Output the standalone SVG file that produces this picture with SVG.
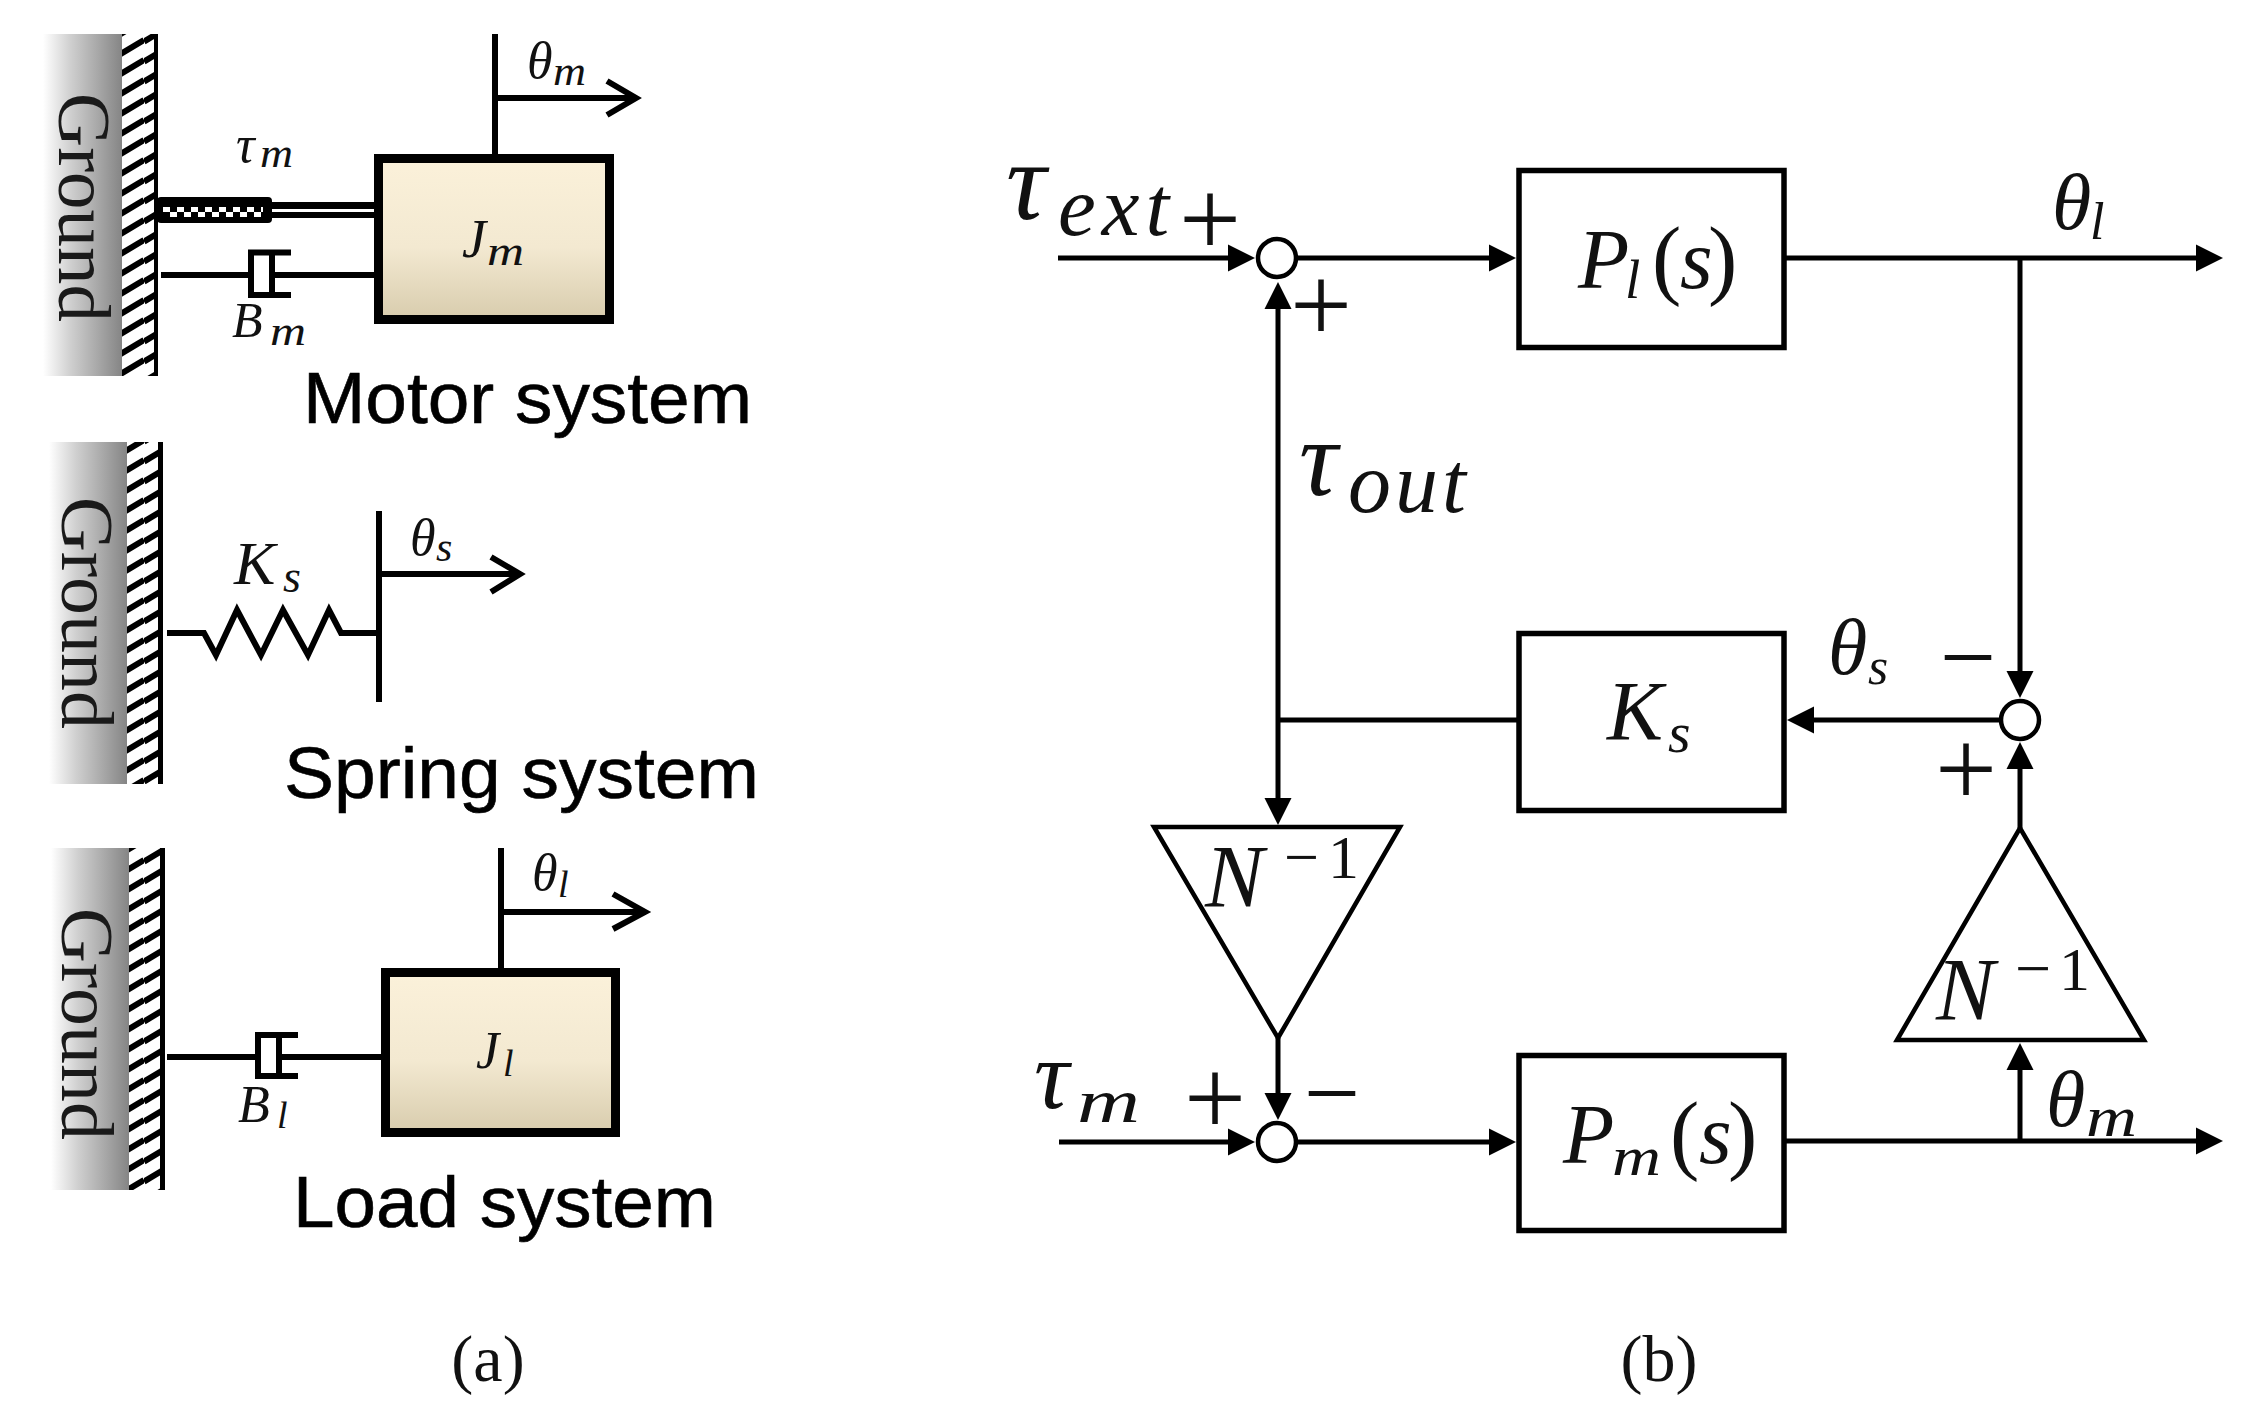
<svg xmlns="http://www.w3.org/2000/svg" width="2263" height="1419" viewBox="0 0 2263 1419">
<style>
.m{font-family:"Liberation Serif",serif;font-style:italic;fill:#111}
.u{font-style:normal}
.sys{font-family:"Liberation Sans",Arial,sans-serif;font-size:73px;fill:#000;stroke:#000;stroke-width:.6}
.gr{font-family:"Liberation Serif",serif;font-size:74px;fill:#1a1a1a}
.pm{font-family:"Liberation Serif",serif;font-size:110px;text-anchor:middle;fill:#111}
.mn{font-family:"Liberation Serif",serif;font-size:100px;text-anchor:middle;fill:#111}
.cap{font-family:"Liberation Serif",serif;font-size:66px;text-anchor:middle;fill:#111}
.wire{fill:none;stroke:#000;stroke-width:5}
.arr{marker-end:url(#tip)}
.block{fill:#fff;stroke:#000;stroke-width:5.5}
.sum{fill:#fff;stroke:#000;stroke-width:4.5}
.tri{fill:#fff;stroke:#000;stroke-width:4.5}
.bar{fill:none;stroke:#000;stroke-width:6}
.mass{fill:url(#massFill);stroke:#000;stroke-width:9}
</style>
<defs>
<marker id="tip" markerUnits="userSpaceOnUse" markerWidth="28" markerHeight="28" viewBox="0 0 28 28" refX="20" refY="14" orient="auto"><path d="M0 .5L27 14L0 27.5z" fill="#000"/></marker>
<linearGradient id="groundFill" x1="0" x2="1" y1="0" y2="0"><stop offset="0" stop-color="#fff"/><stop offset=".35" stop-color="#cfcfcf"/><stop offset="1" stop-color="#858585"/></linearGradient>
<linearGradient id="massFill" x1="0" x2="0" y1="0" y2="1"><stop offset="0" stop-color="#fbf1da"/><stop offset=".55" stop-color="#f3e9d1"/><stop offset="1" stop-color="#d8ccad"/></linearGradient>
<pattern id="hatch" patternUnits="userSpaceOnUse" width="36" height="20"><rect width="36" height="20" fill="#fff"/><path d="M0 21.600L36 0M0 1.600L36 -20M0 41.600L36 20" fill="none" stroke="#000" stroke-width="6"/></pattern>
<pattern id="check" patternUnits="userSpaceOnUse" width="14" height="10" x="163" y="207"><rect width="14" height="10" fill="#000"/><rect x="0" y="0" width="7" height="5" fill="#fff"/><rect x="7" y="5" width="7" height="5" fill="#fff"/></pattern>
</defs>
<rect width="2263" height="1419" fill="#fff"/>

<g id="motor-system">
<rect x="43" y="34" width="79" height="342" fill="url(#groundFill)"/>
<rect x="122" y="34" width="35" height="342" fill="url(#hatch)"/>
<rect x="154" y="34" width="4" height="342" fill="#000"/>
<text class="gr" transform="translate(59 93) rotate(90)" textLength="229" lengthAdjust="spacingAndGlyphs">Ground</text>
<rect x="157" y="197" width="115" height="26" rx="4" fill="#000"/>
<rect x="163" y="207" width="100" height="10" fill="url(#check)"/>
<rect x="272" y="202" width="103" height="16" fill="#000"/>
<rect x="272" y="209" width="103" height="3" fill="#fff"/>
<path class="bar" d="M161 275H251M272 275H375M291 252.500H251V295H291M272 252V295"/>
<rect class="mass" x="378.500" y="158.500" width="231" height="161"/>
<path class="bar" d="M495 34V154M495 98H636M607 81L636 98L607 115"/>
<text class="m" x="236" y="162" font-size="52">τ<tspan x="260" y="167" font-size="42" textLength="33" lengthAdjust="spacingAndGlyphs">m</tspan></text>
<text class="m" x="232" y="337" font-size="50">B<tspan x="270" y="345" font-size="42" textLength="36" lengthAdjust="spacingAndGlyphs">m</tspan></text>
<text class="m" x="462" y="257" font-size="54">J<tspan x="487" y="265" font-size="42" textLength="37" lengthAdjust="spacingAndGlyphs">m</tspan></text>
<text class="m" x="527" y="78" font-size="52">θ<tspan x="553" y="85" font-size="42" textLength="33" lengthAdjust="spacingAndGlyphs">m</tspan></text>
<text class="sys" x="303" y="423" textLength="449" lengthAdjust="spacingAndGlyphs">Motor system</text>
</g>

<g id="spring-system">
<rect x="49" y="442" width="78" height="342" fill="url(#groundFill)"/>
<rect x="127" y="442" width="35" height="342" fill="url(#hatch)"/>
<rect x="158" y="442" width="5" height="342" fill="#000"/>
<text class="gr" transform="translate(62 497) rotate(90)" textLength="232" lengthAdjust="spacingAndGlyphs">Ground</text>
<path class="bar" d="M167 633H204L216 655L237 610L261 655L283 610L308 655L329 610L341 633H379"/>
<path class="bar" d="M379 511V702M379 574H520M491 557L520 574L491 592"/>
<text class="m" x="234" y="584" font-size="62">K<tspan x="283" y="592" font-size="46">s</tspan></text>
<text class="m" x="410" y="555" font-size="52">θ<tspan x="436" y="561" font-size="42">s</tspan></text>
<text class="sys" x="284" y="798" textLength="475" lengthAdjust="spacingAndGlyphs">Spring system</text>
</g>

<g id="load-system">
<rect x="51" y="848" width="78" height="342" fill="url(#groundFill)"/>
<rect x="129" y="848" width="35" height="342" fill="url(#hatch)"/>
<rect x="160" y="848" width="5" height="342" fill="#000"/>
<text class="gr" transform="translate(62 908) rotate(90)" textLength="232" lengthAdjust="spacingAndGlyphs">Ground</text>
<path class="bar" d="M167 1057H258M279 1057H381M298 1035H258V1076H298M279 1035V1076"/>
<rect class="mass" x="385.500" y="972.500" width="230" height="160"/>
<path class="bar" d="M501 848V968M501 912H645M613 894L645 912L613 929"/>
<text class="m" x="238" y="1122" font-size="52">B<tspan x="277" y="1128" font-size="38">l</tspan></text>
<text class="m" x="476" y="1068" font-size="52">J<tspan x="503" y="1076" font-size="38">l</tspan></text>
<text class="m" x="532" y="890" font-size="52">θ<tspan x="558" y="897" font-size="38">l</tspan></text>
<text class="sys" x="293" y="1227" textLength="423" lengthAdjust="spacingAndGlyphs">Load system</text>
</g>

<text id="caption-a" class="cap" x="488" y="1381">(a)</text>
<text id="caption-b" class="cap" x="1659" y="1381">(b)</text>

<g id="connectors">
<path class="wire arr" d="M1058 258H1248"/>
<path class="wire arr" d="M1297 258H1509"/>
<path class="wire arr" d="M1785 258H2216"/>
<path class="wire arr" d="M2020 258V691"/>
<path class="wire arr" d="M2001 720H1794"/>
<path class="wire" d="M1517 720H1278"/>
<path class="wire arr" d="M1278 720V289"/>
<path class="wire arr" d="M1278 720V818"/>
<path class="wire arr" d="M1278 1038V1113"/>
<path class="wire arr" d="M1059 1142H1248"/>
<path class="wire arr" d="M1297 1142H1509"/>
<path class="wire arr" d="M1785 1141H2216"/>
<path class="wire arr" d="M2020 1141V1050"/>
<path class="wire arr" d="M2020 828V749"/>
</g>

<g id="sum-top"><circle class="sum" cx="1277" cy="258" r="19"/></g>
<g id="sum-spring"><circle class="sum" cx="2020" cy="720" r="19"/></g>
<g id="sum-motor"><circle class="sum" cx="1277" cy="1142" r="19"/></g>

<g id="block-pl">
<rect class="block" x="1519" y="170.500" width="265" height="177"/>
<text class="m" x="1578" y="288" font-size="84">P<tspan x="1625" y="298" font-size="55">l</tspan><tspan class="u" x="1652" y="288" font-size="88">(</tspan><tspan x="1680" y="288">s</tspan><tspan class="u" x="1708" y="288" font-size="88">)</tspan></text>
</g>
<g id="block-ks">
<rect class="block" x="1519" y="633.500" width="265" height="177"/>
<text class="m" x="1607" y="740" font-size="84">K<tspan x="1668" y="752" font-size="58">s</tspan></text>
</g>
<g id="block-pm">
<rect class="block" x="1519" y="1055.500" width="265" height="175"/>
<text class="m" x="1563" y="1163" font-size="84">P<tspan x="1612" y="1175" font-size="55" textLength="49" lengthAdjust="spacingAndGlyphs">m</tspan><tspan class="u" x="1670" y="1163" font-size="88">(</tspan><tspan x="1699" y="1163">s</tspan><tspan class="u" x="1728" y="1163" font-size="88">)</tspan></text>
</g>

<g id="gain-left">
<path class="tri" d="M1154 827H1400L1278 1038z"/>
<text class="m" x="1205" y="906" font-size="88">N<tspan class="u" x="1284" y="878" font-size="62">−</tspan><tspan class="u" x="1328" y="878" font-size="62">1</tspan></text>
</g>
<g id="gain-right">
<path class="tri" d="M1897 1040H2144L2020 828z"/>
<text class="m" x="1936" y="1019" font-size="88">N<tspan class="u" x="2015" y="990" font-size="64">−</tspan><tspan class="u" x="2059" y="990" font-size="62">1</tspan></text>
</g>

<g id="labels">
<text class="m" x="1006" y="219" font-size="112">τ<tspan x="1058" y="235" font-size="85" letter-spacing="6">ext</tspan></text>
<text class="m" x="1299" y="495" font-size="108">τ<tspan x="1348" y="512" font-size="86" letter-spacing="4">out</tspan></text>
<text class="m" x="1034" y="1108" font-size="98">τ<tspan x="1077" y="1122" font-size="62" textLength="63" lengthAdjust="spacingAndGlyphs">m</tspan></text>
<text class="m" x="2052" y="229" font-size="80">θ<tspan x="2090" y="239" font-size="52">l</tspan></text>
<text class="m" x="1828" y="674" font-size="80">θ<tspan x="1868" y="684" font-size="52">s</tspan></text>
<text class="m" x="2046" y="1126" font-size="80">θ<tspan x="2086" y="1136" font-size="56" textLength="51" lengthAdjust="spacingAndGlyphs">m</tspan></text>
<text class="pm" x="1210" y="256">+</text>
<text class="pm" x="1321" y="342">+</text>
<text class="pm" x="1215" y="1135">+</text>
<text class="pm" x="1966" y="806">+</text>
<text class="mn" x="1332" y="1127">−</text>
<text class="mn" x="1968" y="691">−</text>
</g>
</svg>
